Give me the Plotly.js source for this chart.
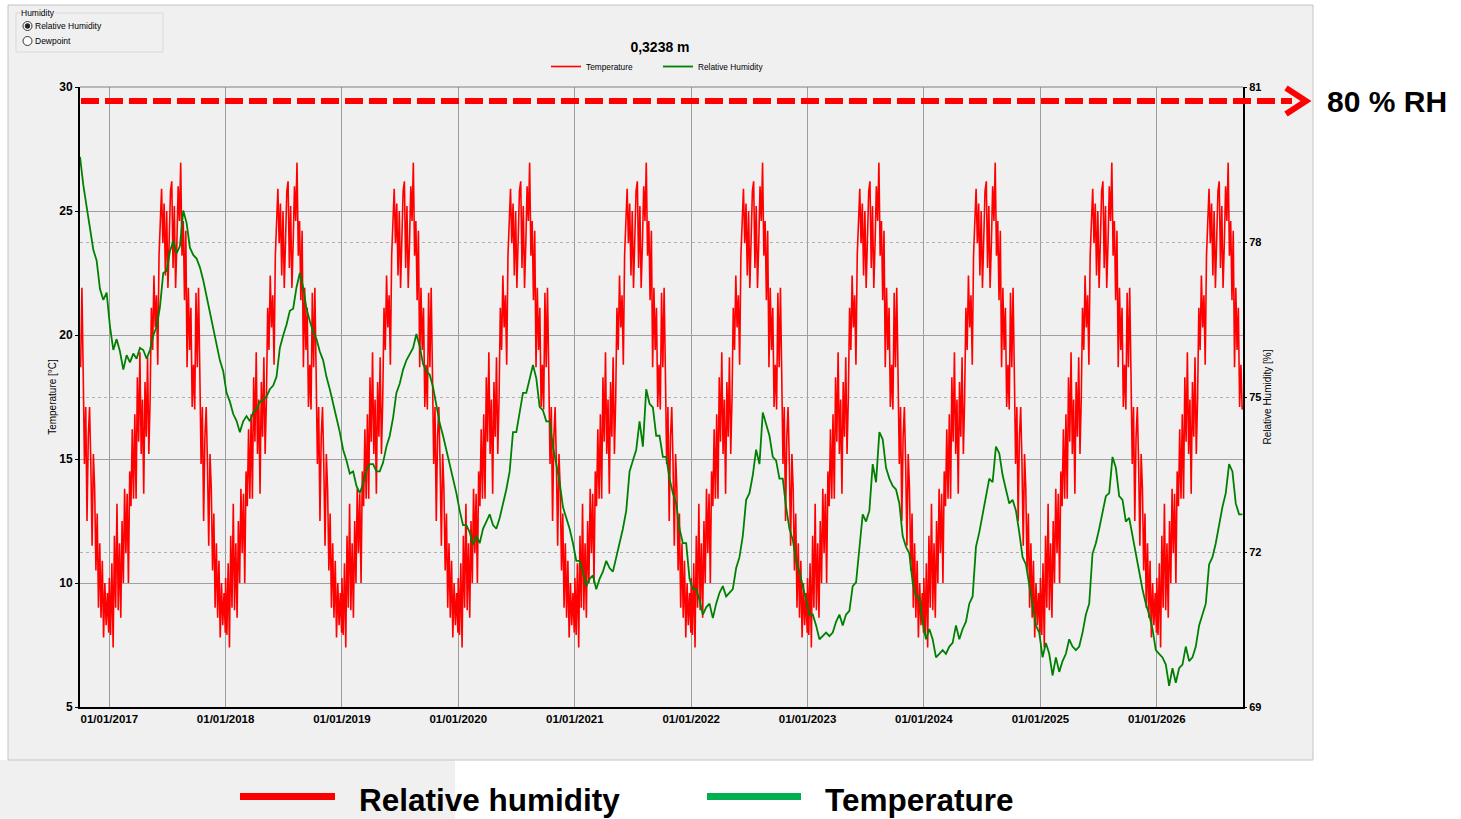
<!DOCTYPE html>
<html><head><meta charset="utf-8">
<script src="https://cdn.plot.ly/plotly-3.0.1.min.js"></script>
<style>html,body{margin:0;padding:0;background:#fff;}#chart{width:1461px;height:819px;}</style>
</head><body><div id="chart"></div>
<script>
// ---- DATA ----
// Temperature [°C] at 0,3238 m: one climate year, repeated identically every year in the reference.
// Sampled every 4 days starting 1 January.
const tempStepDays = 4;
const tempAnnualProfile = [
 10.2, 7.9, 10.8, 7.4, 11.9, 9.0, 13.2, 8.9, 11.6, 8.6,
 12.5, 10.0, 13.8, 11.2, 13.6, 10.0, 14.5, 13.1, 16.2, 13.4,
 16.8, 13.4, 18.3, 15.7, 19.3, 15.2, 17.4, 13.6, 18.1, 15.9,
 19.1, 15.2, 17.4, 21.1, 19.4, 22.4, 20.3, 21.6, 18.8, 23.2,
 25.0, 25.9, 23.7, 25.3, 22.4, 25.0, 21.9, 24.5, 25.8, 26.2,
 22.7, 25.2, 21.9, 23.7, 26.0, 24.6, 26.95, 23.2, 24.6, 21.4,
 24.2, 18.7, 21.9, 19.4, 21.1, 17.1, 18.8, 17.0, 21.7, 18.7,
 21.9, 18.5, 14.8, 17.1, 12.5, 15.9, 17.1, 14.8, 11.5, 15.2,
 13.8, 10.5, 12.8, 9.0, 11.6, 8.6, 10.9, 7.8, 10.0, 8.3,
 9.6, 8.0
];
const tempYears = [2016, 2017, 2018, 2019, 2020, 2021, 2022, 2023, 2024, 2025, 2026];
const seriesStart = '2016-10-01';
const seriesEnd = '2026-09-28 14:00';

// Relative Humidity [%], sampled every ~10.45 days from 1 October 2016.
const rhStepDays = 10.452;
const rhValues = [
 79.65, 79.10, 78.68, 78.30, 77.85, 77.64, 77.09, 76.88, 77.02, 76.36,
 75.91, 76.12, 75.88, 75.53, 75.81, 75.67, 75.84, 75.74, 75.95, 75.91,
 75.74, 75.91, 76.19, 76.36, 76.74, 77.40, 77.44, 77.82, 78.02, 77.78,
 77.92, 78.61, 78.37, 77.89, 77.75, 77.68, 77.51, 77.26, 76.95, 76.71,
 76.36, 76.02, 75.71, 75.50, 75.08, 74.91, 74.67, 74.54, 74.32, 74.53,
 74.63, 74.53, 74.70, 74.77, 74.91, 74.94, 75.01, 75.15, 75.22, 75.39,
 75.95, 76.19, 76.40, 76.67, 76.71, 77.12, 77.40, 77.12, 76.71, 76.47,
 76.26, 76.12, 75.88, 75.71, 75.39, 75.15, 74.84, 74.60, 74.32, 73.98,
 73.77, 73.52, 73.56, 73.28, 73.14, 73.32, 73.59, 73.70, 73.70, 73.56,
 73.56, 73.73, 74.04, 74.25, 74.60, 75.08, 75.26, 75.53, 75.71, 75.84,
 75.95, 76.22, 75.98, 75.64, 75.50, 75.43, 75.19, 74.84, 74.49, 74.25,
 73.98, 73.66, 73.42, 73.14, 72.80, 72.52, 72.52, 72.38, 72.14, 72.31,
 72.17, 72.45, 72.59, 72.73, 72.52, 72.45, 72.66, 72.94, 73.21, 73.56,
 74.32, 74.32, 74.67, 75.08, 75.08, 75.36, 75.62, 75.36, 74.81, 74.74,
 74.53, 74.53, 74.04, 73.70, 73.35, 72.87, 72.66, 72.45, 72.17, 71.83,
 71.83, 71.62, 71.34, 71.48, 71.55, 71.28, 71.48, 71.62, 71.83, 71.69,
 71.62, 71.90, 72.17, 72.45, 72.80, 73.56, 73.77, 73.98, 74.53, 74.04,
 75.15, 74.87, 74.80, 74.25, 74.25, 73.84, 73.84, 73.42, 73.14, 72.94,
 72.45, 72.17, 72.17, 71.48, 71.28, 71.28, 71.07, 70.79, 70.93, 71.00,
 70.72, 71.00, 71.21, 71.34, 71.14, 71.21, 71.28, 71.69, 71.90, 72.31,
 73.01, 73.14, 73.49, 73.98, 73.70, 74.70, 74.46, 74.25, 73.84, 73.77,
 73.42, 73.42, 72.87, 72.45, 72.24, 71.83, 71.62, 71.34, 71.07, 70.79,
 70.79, 70.58, 70.31, 70.37, 70.44, 70.37, 70.44, 70.65, 70.79, 70.58,
 70.79, 70.86, 71.34, 71.41, 72.10, 72.73, 72.59, 72.80, 73.70, 73.35,
 74.32, 74.18, 73.63, 73.42, 73.28, 73.21, 72.94, 72.31, 72.10, 71.97,
 71.41, 71.14, 71.14, 70.65, 70.31, 70.51, 70.31, 69.96, 70.03, 70.10,
 70.03, 70.17, 70.24, 70.58, 70.31, 70.51, 70.65, 71.00, 71.14, 72.10,
 72.38, 72.73, 73.14, 73.42, 73.35, 74.04, 73.91, 73.49, 73.21, 72.94,
 73.01, 72.80, 72.38, 71.90, 71.76, 71.34, 70.93, 70.58, 70.44, 69.96,
 70.24, 70.03, 69.61, 69.96, 69.68, 69.89, 70.03, 70.31, 70.17, 70.10,
 70.17, 70.44, 70.79, 71.00, 71.97, 72.17, 72.45, 72.80, 73.08, 73.14,
 73.84, 73.63, 73.08, 73.01, 72.59, 72.66, 72.31, 71.90, 71.62, 71.28,
 71.00, 70.79, 70.51, 70.10, 70.03, 69.96, 69.82, 69.41, 69.75, 69.47,
 69.75, 69.82, 70.17, 69.89, 69.96, 70.17, 70.58, 70.79, 71.00, 71.76,
 71.90, 72.17, 72.52, 72.87, 73.14, 73.70, 73.56, 72.94, 72.73, 72.73
];

const xTickDates = ['2017-01-01','2018-01-01','2019-01-01','2020-01-01','2021-01-01',
                    '2022-01-01','2023-01-01','2024-01-01','2025-01-01','2026-01-01'];
const xTickLabels = ['01/01/2017','01/01/2018','01/01/2019','01/01/2020','01/01/2021',
                     '01/01/2022','01/01/2023','01/01/2024','01/01/2025','01/01/2026'];
const tempTicks = [5, 10, 15, 20, 25, 30];
const rhTicks = [69, 72, 75, 78, 81];

// ---- build series ----
const DAY = 86400000;
function iso(ms){ return new Date(ms).toISOString().slice(0,19).replace('T',' '); }
const startMs = Date.parse(seriesStart + 'T00:00:00Z');
const endMs = Date.parse('2026-09-28T14:00:00Z');
const tempX = [], tempY = [];
tempYears.forEach(function(Y){
  tempAnnualProfile.forEach(function(v, j){
    const ms = Date.UTC(Y,0,1) + j*tempStepDays*DAY;
    if (ms >= startMs && ms <= endMs){ tempX.push(iso(ms)); tempY.push(v); }
  });
});
const rhX = rhValues.map(function(v,k){ return iso(startMs + k*rhStepDays*DAY); });

// ---- pixel helpers for decoration placement ----
const PL = 80, PR = 1243, PT = 87, PB = 707;
function px(x){ return (x-PL)/(PR-PL); }
function py(y){ return (PB-y)/(PB-PT); }
const FONT = 'Liberation Sans, Arial, sans-serif';

const traces = [
  {x: tempX, y: tempY, type:'scatter', mode:'lines', name:'Temperature',
   line:{color:'#ff0000', width:1.6}, yaxis:'y'},
  {x: rhX, y: rhValues, type:'scatter', mode:'lines', name:'Relative Humidity',
   line:{color:'#008000', width:1.8}, yaxis:'y2'}
];

function circ(cx, cy, r, fill, lc){
  return {type:'circle', xref:'paper', yref:'paper', x0:px(cx-r), x1:px(cx+r), y0:py(cy+r), y1:py(cy-r),
          fillcolor:fill, line:{color:lc, width:1}};
}

const shapes = [
  {type:'rect', xref:'paper', yref:'paper', layer:'below', x0:px(0), x1:px(455), y0:py(819), y1:py(760),
   fillcolor:'#f0f0f0', line:{width:0}},
  {type:'rect', xref:'paper', yref:'paper', layer:'below', x0:px(8), x1:px(1313), y0:py(760), y1:py(5),
   fillcolor:'#f0f0f0', line:{color:'#c4c4c4', width:1}},
  {type:'line', xref:'paper', yref:'paper', x0:0, x1:1, y0:1, y1:1, line:{color:'#808080', width:1}},
  {type:'rect', xref:'paper', yref:'paper', x0:px(16), x1:px(163), y0:py(52), y1:py(13),
   fillcolor:'rgba(0,0,0,0)', line:{color:'#d9d9d9', width:1}},
  circ(27.5, 26, 4.5, '#ffffff', '#333333'),
  circ(27.5, 26, 2.3, '#222222', '#222222'),
  circ(27.5, 41, 4.5, '#ffffff', '#333333'),
  {type:'line', xref:'paper', yref:'paper', x0:px(81), x1:px(1292), y0:py(101), y1:py(101),
   line:{color:'#ff0000', width:6, dash:'18px,6px'}},
  {type:'path', xref:'paper', yref:'paper',
   path:'M '+px(1286)+' '+py(88)+' L '+px(1306)+' '+py(101)+' L '+px(1286)+' '+py(114),
   line:{color:'#ff0000', width:6}},
  {type:'rect', xref:'paper', yref:'paper', x0:px(240), x1:px(335), y0:py(800), y1:py(793),
   fillcolor:'#ff0000', line:{width:0}},
  {type:'rect', xref:'paper', yref:'paper', x0:px(707), x1:px(801), y0:py(800), y1:py(793),
   fillcolor:'#00b050', line:{width:0}}
];

function ann(text, x, y, size, weight, extra){
  return Object.assign({text:text, x:px(x), y:py(y), xref:'paper', yref:'paper', xanchor:'left', yanchor:'middle',
    showarrow:false, font:{family:FONT, size:size, color:'#000', weight:weight}}, extra||{});
}
const annotations = [
  ann('80 % RH', 1325, 102, 30, 'bold'),
  ann('Relative humidity', 357, 800, 31.5, 'bold'),
  ann('Temperature', 823, 800, 31.5, 'bold'),
  ann('Humidity', 20, 13, 8.5, 'normal', {bgcolor:'#f0f0f0', borderpad:0}),
  ann('Relative Humidity', 33, 26, 8.5, 'normal'),
  ann('Dewpoint', 33, 41, 8.5, 'normal')
];

const layout = {
  width:1461, height:819,
  margin:{l:PL, r:1461-PR, t:PT, b:819-PB, pad:0},
  paper_bgcolor:'#ffffff', plot_bgcolor:'rgba(0,0,0,0)',
  font:{family:FONT, color:'#000'},
  title:{text:'0,3238 m', font:{family:FONT, size:14, weight:'bold', color:'#000'},
         x:660/1461, xref:'container', xanchor:'center', y:1-47/819, yref:'container', yanchor:'middle'},
  showlegend:true,
  legend:{orientation:'h', x:px(546), xanchor:'left', y:py(52), yanchor:'top',
          font:{family:FONT, size:8.3, color:'#000'}, bgcolor:'rgba(0,0,0,0)', itemwidth:30,
          entrywidth:67, entrywidthmode:'pixels', tracegroupgap:0},
  xaxis:{type:'date', range:[seriesStart, seriesEnd], tickmode:'array', tickvals:xTickDates, ticktext:xTickLabels,
         showgrid:true, gridcolor:'#9c9c9c', gridwidth:1, zeroline:false,
         showline:true, linecolor:'#000', linewidth:2, ticks:'', automargin:false,
         tickfont:{family:FONT, size:11.5, weight:'bold', color:'#000'}},
  yaxis:{range:[5,30], tickmode:'array', tickvals:tempTicks, showgrid:true, gridcolor:'#a0a0a0', gridwidth:1,
         zeroline:false, showline:true, linecolor:'#000', linewidth:2, ticks:'outside', ticklen:3, tickcolor:'#000',
         automargin:false, tickfont:{family:FONT, size:12, weight:'bold', color:'#000'},
         title:{text:'Temperature [°C]', font:{family:FONT, size:10, color:'#000'}, standoff:1}},
  yaxis2:{range:[69,81], overlaying:'y', side:'right', tickmode:'array', tickvals:rhTicks,
          showgrid:true, gridcolor:'#b0b0b0', gridwidth:1, griddash:'dot', zeroline:false,
          showline:true, linecolor:'#000', linewidth:2, ticks:'outside', ticklen:2, tickcolor:'#000',
          automargin:false, tickfont:{family:FONT, size:11, weight:'bold', color:'#000'},
          title:{text:'Relative Humidity [%]', font:{family:FONT, size:10, color:'#000'}, standoff:4}},
  shapes:shapes, annotations:annotations, hovermode:false
};
Plotly.newPlot('chart', traces, layout, {staticPlot:true, displayModeBar:false});
</script></body></html>
